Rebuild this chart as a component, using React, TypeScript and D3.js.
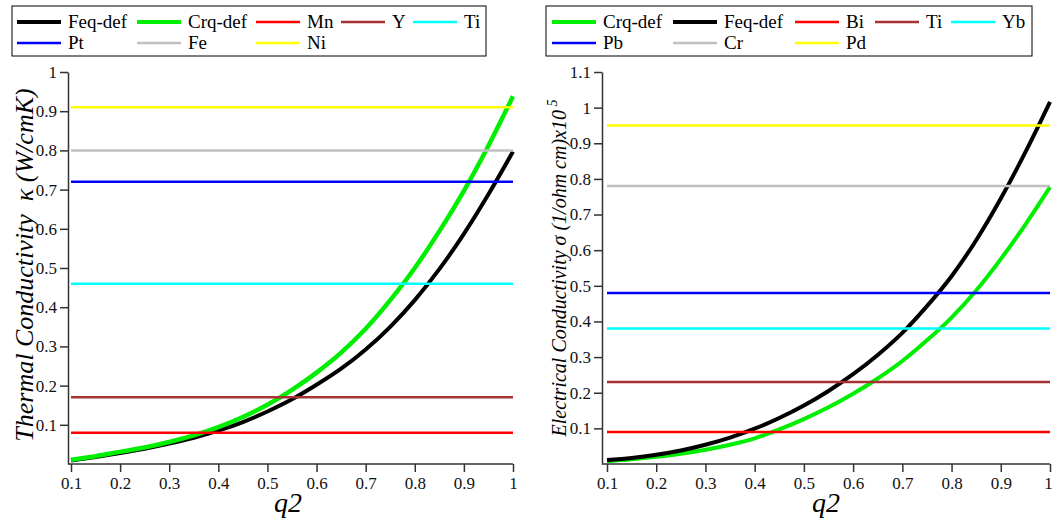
import React, { useEffect, useRef } from "react";
import * as d3 from "d3";

// q2 sample points
const q2 = [0.1, 0.15, 0.2, 0.25, 0.3, 0.35, 0.4, 0.45, 0.5, 0.55, 0.6, 0.65, 0.7, 0.75, 0.8, 0.85, 0.9, 0.95, 1.0];

const thermalFeq = [0.009, 0.018, 0.028, 0.039, 0.052, 0.067, 0.085, 0.107, 0.134, 0.165, 0.202, 0.243, 0.292, 0.35, 0.418, 0.497, 0.587, 0.688, 0.797];
const thermalCrq = [0.011, 0.02, 0.031, 0.042, 0.056, 0.073, 0.094, 0.12, 0.151, 0.189, 0.233, 0.284, 0.345, 0.418, 0.5, 0.594, 0.697, 0.812, 0.938];

const electricalFeq = [0.011, 0.017, 0.026, 0.038, 0.054, 0.074, 0.099, 0.129, 0.164, 0.205, 0.252, 0.306, 0.368, 0.443, 0.527, 0.628, 0.745, 0.875, 1.016];
const electricalCrq = [0.008, 0.013, 0.02, 0.029, 0.04, 0.054, 0.072, 0.097, 0.126, 0.159, 0.197, 0.24, 0.289, 0.347, 0.411, 0.487, 0.575, 0.672, 0.777];

const thermalRefNames = ["Mn", "Y", "Ti", "Pt", "Fe", "Ni"];
const thermalRefValues = [0.08, 0.17, 0.46, 0.72, 0.8, 0.91];
const electricalRefNames = ["Bi", "Ti", "Yb", "Pb", "Cr", "Pd"];
const electricalRefValues = [0.09, 0.23, 0.38, 0.48, 0.78, 0.95];
const refColors = ["#ff0000", "#a83232", "#00ffff", "#0000ff", "#c0c0c0", "#ffff00"];

const xTicks = [0.1, 0.2, 0.3, 0.4, 0.5, 0.6, 0.7, 0.8, 0.9, 1];
const thermalTicks = [0.1, 0.2, 0.3, 0.4, 0.5, 0.6, 0.7, 0.8, 0.9, 1];
const electricalTicks = [0.1, 0.2, 0.3, 0.4, 0.5, 0.6, 0.7, 0.8, 0.9, 1, 1.1];

const FONT = "'Liberation Serif', 'Times New Roman', serif";
const AXIS = "#333";

type Series = { name: string; color: string; width: number; values: number[] };

type PanelCfg = {
  axisX: number;
  x0: number;
  x1: number;
  yMax: number;
  yTicks: number[];
  series: Series[];
  legendBox: [number, number];
  legendCols: number[];
  yLabel: (t: d3.Selection<SVGTextElement, unknown, null, undefined>) => void;
  yLabelPos: [number, number];
  xLabelX: number;
  lastTickShift: number;
};

function drawPanel(svg: d3.Selection<SVGSVGElement, unknown, null, undefined>, cfg: PanelCfg) {
  const top = 72,
    bottom = 464;
  const x = d3.scaleLinear().domain([0.1, 1]).range([cfg.x0, cfg.x1]);
  const y = d3.scaleLinear().domain([0, cfg.yMax]).range([bottom, top]);
  const fmt = (d: number) => String(+d.toFixed(1));

  const g = svg.append("g");

  // lines, in legend order (later ones on top)
  const line = d3
    .line<number>()
    .x((_, i) => x(q2[i]))
    .y((d) => y(d))
    .curve(d3.curveMonotoneX);

  cfg.series.forEach((s) => {
    g.append("path")
      .datum(s.values)
      .attr("fill", "none")
      .attr("stroke", s.color)
      .attr("stroke-width", s.width)
      .attr("d", line);
  });

  // x axis
  g.append("g")
    .attr("transform", `translate(0,${bottom})`)
    .call(d3.axisBottom(x).tickValues(xTicks).tickSize(8).tickPadding(5).tickFormat((d) => fmt(+d)))
    .call((a) => a.select(".domain").remove())
    .call((a) => a.selectAll(".tick line").attr("stroke", AXIS).attr("stroke-width", 1.5))
    .call((a) =>
      a.selectAll("text").attr("fill", "#111").attr("font-size", 17).attr("font-family", FONT)
    )
    .call((a) => a.selectAll<SVGTextElement, number>("text").filter((d) => d === 1).attr("dx", cfg.lastTickShift));
  g.append("line")
    .attr("x1", cfg.axisX)
    .attr("x2", cfg.x1)
    .attr("y1", bottom)
    .attr("y2", bottom)
    .attr("stroke", AXIS)
    .attr("stroke-width", 1.5);

  // y axis
  g.append("g")
    .attr("transform", `translate(${cfg.axisX},0)`)
    .call(d3.axisLeft(y).tickValues(cfg.yTicks).tickSize(8).tickSizeOuter(0).tickPadding(3).tickFormat((d) => fmt(+d)))
    .call((a) => a.select(".domain").attr("stroke", AXIS).attr("stroke-width", 1.5))
    .call((a) => a.selectAll(".tick line").attr("stroke", AXIS).attr("stroke-width", 1.5))
    .call((a) =>
      a.selectAll("text").attr("fill", "#111").attr("font-size", 17).attr("font-family", FONT)
    );

  // axis titles
  g.append("text")
    .attr("x", cfg.xLabelX)
    .attr("y", 512)
    .attr("text-anchor", "middle")
    .attr("font-family", FONT)
    .attr("font-style", "italic")
    .attr("font-size", 28)
    .text("q2");

  const yl = g
    .append("text")
    .attr("transform", `translate(${cfg.yLabelPos[0]},${cfg.yLabelPos[1]}) rotate(-90)`)
    .attr("text-anchor", "middle")
    .attr("font-family", FONT)
    .attr("font-style", "italic")
    .style("white-space", "pre");
  cfg.yLabel(yl);

  // legend
  const [bx0, bx1] = cfg.legendBox;
  g.append("rect")
    .attr("x", bx0)
    .attr("y", 6)
    .attr("width", bx1 - bx0)
    .attr("height", 50)
    .attr("fill", "white")
    .attr("stroke", "#000")
    .attr("stroke-width", 1);

  cfg.series.forEach((s, i) => {
    const col = i % 5;
    const row = Math.floor(i / 5);
    const lx = cfg.legendCols[col];
    const ly = 22 + row * 21;
    g.append("line")
      .attr("x1", lx)
      .attr("x2", lx + 44)
      .attr("y1", ly)
      .attr("y2", ly)
      .attr("stroke", s.color)
      .attr("stroke-width", s.width >= 4 ? 4 : 2.5);
    g.append("text")
      .attr("x", lx + 51)
      .attr("y", ly + 6)
      .attr("font-family", FONT)
      .attr("font-size", 19)
      .attr("fill", "#000")
      .text(s.name);
  });
}

const App = () => {
  const svgRef = useRef<SVGSVGElement>(null);

  useEffect(() => {
    const svg = d3.select(svgRef.current as SVGSVGElement);
    svg.selectAll("*").remove();

    const thermalSeries: Series[] = [
      { name: "Feq-def", color: "#000000", width: 4, values: thermalFeq },
      { name: "Crq-def", color: "#00ee00", width: 4.5, values: thermalCrq },
      ...thermalRefNames.map((n, i) => ({
        name: n,
        color: refColors[i],
        width: 2.5,
        values: q2.map(() => thermalRefValues[i]),
      })),
    ];

    const electricalSeries: Series[] = [
      { name: "Crq-def", color: "#00ee00", width: 4, values: electricalCrq },
      { name: "Feq-def", color: "#000000", width: 4, values: electricalFeq },
      ...electricalRefNames.map((n, i) => ({
        name: n,
        color: refColors[i],
        width: 2.5,
        values: q2.map(() => electricalRefValues[i]),
      })),
    ];

    drawPanel(svg, {
      axisX: 68,
      x0: 71,
      x1: 513,
      yMax: 1,
      yTicks: thermalTicks,
      series: thermalSeries,
      legendBox: [12, 486],
      legendCols: [17, 137, 256, 341, 413],
      yLabelPos: [33, 265],
      xLabelX: 288,
      lastTickShift: 0,
      yLabel: (t) => t.attr("font-size", 26).text("Thermal Conductivity  κ (W/cmK)"),
    });

    drawPanel(svg, {
      axisX: 602,
      x0: 607,
      x1: 1050,
      yMax: 1.1,
      yTicks: electricalTicks,
      series: electricalSeries,
      legendBox: [546, 1032],
      legendCols: [552, 673, 795, 875, 951],
      yLabelPos: [566, 268],
      xLabelX: 826,
      lastTickShift: -2,
      yLabel: (t) => {
        t.attr("font-size", 20);
        t.append("tspan").text("Electrical Conductivity σ (1/ohm cm)x10");
        t.append("tspan").attr("dy", -9).attr("font-size", 14).text(" 5");
      },
    });
  }, []);

  return (
    <div style={{ position: "absolute", left: 0, top: 0 }}>
      <svg ref={svgRef} width={1053} height={523} style={{ display: "block", background: "#fff" }} />
    </div>
  );
};

export default App;
